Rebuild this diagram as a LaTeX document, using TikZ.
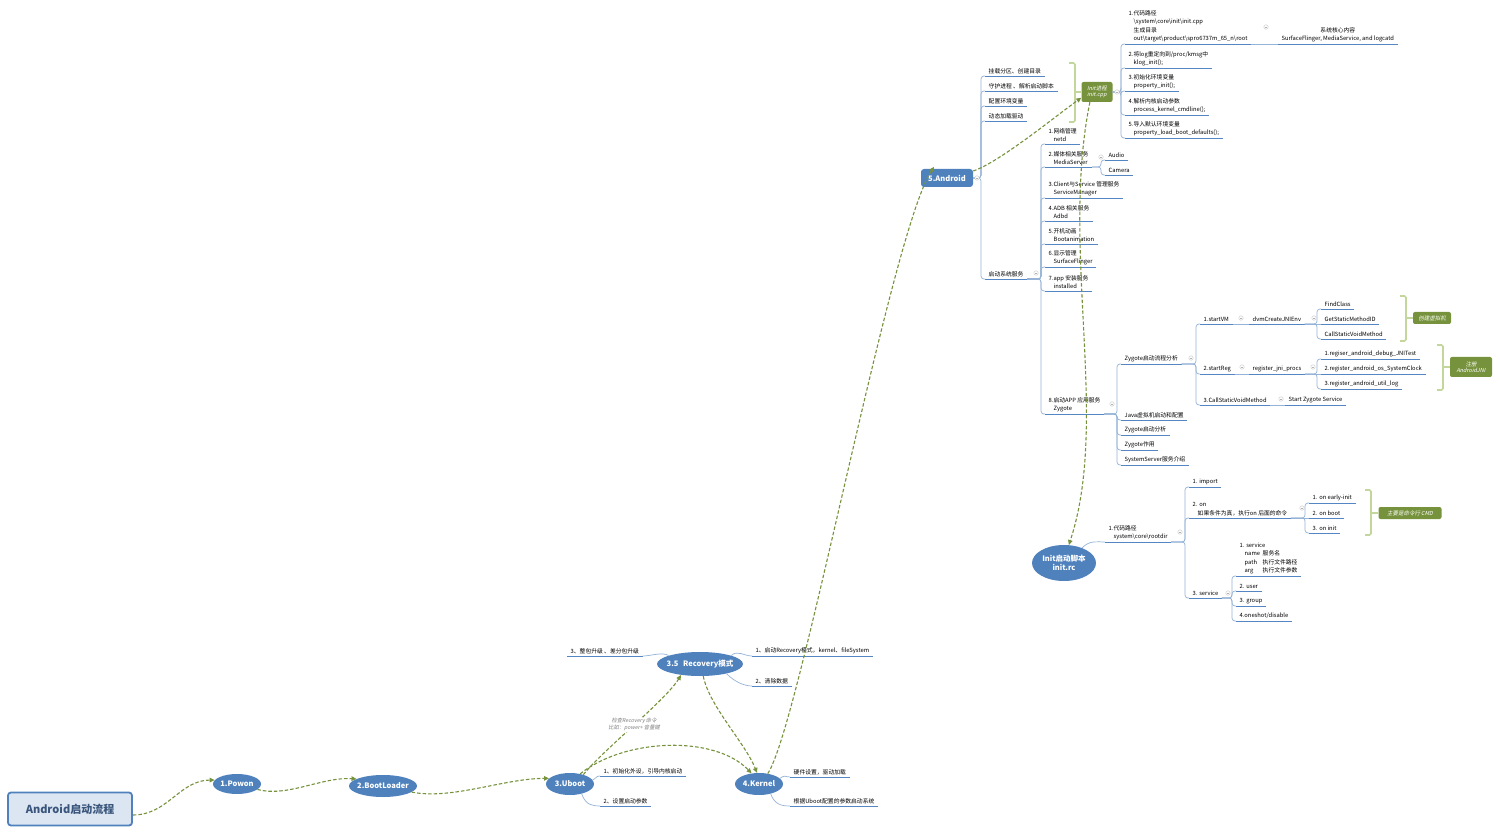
\documentclass[tikz,border=0pt]{standalone}
\usepackage{fontspec}
\setmainfont{Noto Sans CJK SC}
\newfontfamily\slantfont{Noto Sans CJK SC}[FakeSlant=0.2]
\usetikzlibrary{arrows.meta,shapes.geometric}
\definecolor{topicblue}{RGB}{79,129,189}
\definecolor{lineblue}{RGB}{149,179,215}
\definecolor{ulblue}{RGB}{84,134,196}
\definecolor{flowgreen}{RGB}{118,146,60}
\definecolor{bracegreen}{RGB}{195,214,155}
\definecolor{titlefill}{RGB}{220,230,242}
\definecolor{titletext}{RGB}{59,86,124}
\newcommand{\leafFont}{\fontsize{5.8}{8.4}\selectfont}
\newcommand{\bsl}{\textbackslash}
\newcommand{\indt}{\hspace*{5pt}}

\begin{document}
\begin{tikzpicture}[x=1pt, y=-1pt,
  topic/.style={ellipse, fill=topicblue, text=white, font=\fontsize{7.5}{9}\selectfont\bfseries, inner xsep=-4pt, inner ysep=0pt, align=center},
  leaf/.style={anchor=south west, inner xsep=3.5pt, inner ysep=1.8pt, align=left, font=\leafFont,
    append after command={(\tikzlastnode.south west) edge[draw=ulblue, line width=0.8pt] (\tikzlastnode.south east)}},
  summary/.style={rectangle, rounded corners=2pt, fill=flowgreen, text=white, font=\slantfont\fontsize{5.5}{6.5}\selectfont, inner sep=1pt, align=center},
  note/.style={fill=white, text=gray, font=\slantfont\fontsize{5.3}{7}\selectfont, inner sep=0.5pt, align=center},
  link/.style={draw=lineblue, line width=0.7pt, rounded corners=3pt},
  flow/.style={draw=flowgreen, line width=1.1pt, dash pattern=on 3.5pt off 2pt, -{Triangle[length=5pt,width=4.5pt]}},
  brace/.style={draw=bracegreen, line width=1.6pt, rounded corners=1.5pt},
  fold/.style={circle, draw=gray!45, fill=white, inner sep=0pt, minimum size=4.5pt, line width=0.4pt,
    path picture={\draw[gray!60, line width=0.4pt] ([xshift=1pt]path picture bounding box.west) -- ([xshift=-1pt]path picture bounding box.east);}}]

\useasboundingbox[fill=white] (0,0) rectangle (1500,834);

% main chain
\node[rectangle, rounded corners=3pt, draw=topicblue, line width=1.8pt, fill=titlefill, text=titletext,
  font=\fontsize{11}{13}\selectfont\bfseries, minimum width=124pt, minimum height=33pt] (title) at (70,809) {Android启动流程};
\node[topic, minimum width=48pt, minimum height=20pt] (powon) at (237,784) {1.Powon};
\node[topic, minimum width=68pt, minimum height=22pt] (boot) at (383,786) {2.BootLoader};
\node[topic, minimum width=48pt, minimum height=22pt] (uboot) at (570,784) {3.Uboot};
\node[topic, minimum width=48pt, minimum height=22pt] (kernel) at (759,784) {4.Kernel};
\node[topic, minimum width=86pt, minimum height=24pt] (recov) at (700,664) {3.5\hspace{3pt} Recovery模式};
\node[rectangle, rounded corners=3pt, fill=topicblue, text=white, font=\fontsize{7.5}{9}\selectfont\bfseries,
  minimum width=52pt, minimum height=18pt, inner sep=0pt] (droid) at (947,178) {5.Android};
\node[topic, minimum width=64pt, minimum height=36pt] (initrc) at (1064,563) {Init启动脚本\\init.rc};

% summaries
\node[summary, minimum width=31pt, minimum height=20pt] (initp) at (1097,92) {Init进程\\init.cpp};
\node[summary, minimum width=38pt, minimum height=12pt] (vm) at (1432,318) {创建虚拟机};
\node[summary, minimum width=42pt, minimum height=20pt] (jni) at (1471,367) {注册\\AndroidJNI};
\node[summary, minimum width=63pt, minimum height=12pt] (cmd) at (1410,513) {主要是命令行 CMD};

% 5.Android
\node[leaf] (a1) at (985,76) {挂载分区、创建目录};
\node[leaf] (a2) at (985,91) {守护进程 、解析启动脚本};
\node[leaf] (a3) at (985,106) {配置环境变量};
\node[leaf] (a4) at (985,121) {动态加载驱动};
\node[leaf] (a5) at (985,279) {启动系统服务};

% init.cpp
\node[leaf] (i1) at (1125,44) {1.代码路径\\\indt\bsl system\bsl core\bsl init\bsl init.cpp\\\indt 生成目录\\\indt out\bsl target\bsl product\bsl spro6737m\_65\_n\bsl root};
\node[leaf, align=center] (i1b) at (1278,44) {系统核心内容\\SurfaceFlinger, MediaService, and logcatd};
\node[leaf] (i2) at (1125,68) {2.将log重定向到/proc/kmsg中\\\indt klog\_init();};
\node[leaf] (i3) at (1125,91) {3.初始化环境变量\\\indt property\_init();};
\node[leaf] (i4) at (1125,115) {4.解析内核启动参数\\\indt process\_kernel\_cmdline();};
\node[leaf] (i5) at (1125,138) {5.导入默认环境变量\\\indt property\_load\_boot\_defaults();};

% system services
\node[leaf] (s1) at (1045,144) {1.网络管理\\\indt netd};
\node[leaf] (s2) at (1045,167) {2.媒体相关服务\\\indt MediaServer};
\node[leaf] (s3) at (1045,198) {3.Client与Service 管理服务\\\indt ServiceManager};
\node[leaf] (s4) at (1045,221) {4.ADB 相关服务\\\indt Adbd};
\node[leaf] (s5) at (1045,244) {5.开机动画\\\indt Bootanimation};
\node[leaf] (s6) at (1045,267) {6.显示管理\\\indt SurfaceFlinger};
\node[leaf] (s7) at (1045,291) {7.app 安装服务\\\indt installed};
\node[leaf] (s8) at (1045,414) {8.启动APP 应用服务\\\indt Zygote};
\node[leaf] (audio) at (1105,160) {Audio};
\node[leaf] (camera) at (1105,175) {Camera};

% Zygote
\node[leaf] (z1) at (1121,364) {Zygote启动流程分析};
\node[leaf] (z2) at (1121,420) {Java虚拟机启动和配置};
\node[leaf] (z3) at (1121,435) {Zygote启动分析};
\node[leaf] (z4) at (1121,450) {Zygote作用};
\node[leaf] (z5) at (1121,465) {SystemServer服务介绍};
\node[leaf] (v1) at (1200,324) {1.startVM};
\node[leaf] (v2) at (1200,374) {2.startReg};
\node[leaf] (v3) at (1200,405) {3.CallStaticVoidMethod};
\node[leaf] (v11) at (1249,324) {dvmCreateJNIEnv};
\node[leaf] (v21) at (1249,374) {register\_jni\_procs};
\node[leaf] (v31) at (1285,405) {Start Zygote Service};
\node[leaf] (m1) at (1321,309) {FindClass};
\node[leaf] (m2) at (1321,324) {GetStaticMethodID};
\node[leaf] (m3) at (1321,339) {CallStaticVoidMethod};
\node[leaf] (j1) at (1321,359) {1.regiser\_android\_debug\_JNITest};
\node[leaf] (j2) at (1321,374) {2.register\_android\_os\_SystemClock};
\node[leaf] (j3) at (1321,389) {3.register\_android\_util\_log};

% init.rc
\node[leaf] (r1) at (1105,542) {1.代码路径\\\indt system\bsl core\bsl rootdir};
\node[leaf] (r11) at (1189,487) {1. import};
\node[leaf] (r12) at (1189,518) {2. on\\\indt 如果条件为真，执行on 后面的命令};
\node[leaf] (r13) at (1189,598) {3. service};
\node[leaf] (o1) at (1309,503) {1. on early-init};
\node[leaf] (o2) at (1309,518) {2. on boot};
\node[leaf] (o3) at (1309,533) {3. on init};
\node[leaf] (t1) at (1236,576) {1. service\\\indt\makebox[18pt][l]{name}服务名\\\indt\makebox[18pt][l]{path}执行文件路径\\\indt\makebox[18pt][l]{arg}执行文件参数};
\node[leaf] (t2) at (1236,591) {2. user};
\node[leaf] (t3) at (1236,606) {3. group};
\node[leaf] (t4) at (1236,621) {4.oneshot/disable};

% recovery, uboot, kernel
\node[leaf] (e1) at (752,656) {1、启动Recovery模式，kernel、fileSystem};
\node[leaf] (e2) at (752,686) {2、清除数据};
\node[leaf] (e3) at (567,656) {3、整包升级 、差分包升级};
\node[leaf] (u1) at (600,776) {1、初始化外设，引导内核启动};
\node[leaf] (u2) at (600,806) {2、设置启动参数};
\node[leaf] (k1) at (790,777) {硬件设置，驱动加载};
\node[leaf] (k2) at (790,806) {根据Uboot配置的参数启动系统};

% tree links
\foreach \kid in {a1,a2,a3,a4,a5}
  \draw[link] (droid.east) -| ([xshift=-4pt]\kid.south west) -- (\kid.south west);
\foreach \kid in {i1,i2,i3,i4,i5}
  \draw[link] (initp.east) -| ([xshift=-4pt]\kid.south west) -- (\kid.south west);
\draw[link] (i1.south east) -- (i1b.south west);
\foreach \kid in {s1,s2,s3,s4,s5,s6,s7,s8}
  \draw[link] (a5.south east) -| ([xshift=-4pt]\kid.south west) -- (\kid.south west);
\foreach \kid in {audio,camera}
  \draw[link] (s2.south east) -| ([xshift=-4pt]\kid.south west) -- (\kid.south west);
\foreach \kid in {z1,z2,z3,z4,z5}
  \draw[link] (s8.south east) -| ([xshift=-4pt]\kid.south west) -- (\kid.south west);
\foreach \kid in {v1,v2,v3}
  \draw[link] (z1.south east) -| ([xshift=-4pt]\kid.south west) -- (\kid.south west);
\draw[link] (v1.south east) -- (v11.south west);
\draw[link] (v2.south east) -- (v21.south west);
\draw[link] (v3.south east) -- (v31.south west);
\foreach \kid in {m1,m3}
  \draw[link] (v11.south east) -| ([xshift=-4pt]\kid.south west) -- (\kid.south west);
\draw[link] (v11.south east) -- (m2.south west);
\foreach \kid in {j1,j3}
  \draw[link] (v21.south east) -| ([xshift=-4pt]\kid.south west) -- (\kid.south west);
\draw[link] (v21.south east) -- (j2.south west);
\draw[link] (initrc.40) .. controls +(8,-8) and +(-8,0) .. (r1.south west);
\foreach \kid in {r11,r12,r13}
  \draw[link] (r1.south east) -| ([xshift=-4pt]\kid.south west) -- (\kid.south west);
\foreach \kid in {o1,o3}
  \draw[link] (r12.south east) -| ([xshift=-4pt]\kid.south west) -- (\kid.south west);
\draw[link] (r12.south east) -- (o2.south west);
\foreach \kid in {t1,t2,t3,t4}
  \draw[link] (r13.south east) -| ([xshift=-4pt]\kid.south west) -- (\kid.south west);
\draw[link] (recov.15) .. controls +(6,-6) and +(-8,0) .. (e1.south west);
\draw[link] (recov.-20) .. controls +(8,8) and +(-8,0) .. (e2.south west);
\draw[link] (recov.165) .. controls +(-6,-4) and +(8,0) .. (e3.south east);
\draw[link] (uboot.10) .. controls +(4,-2) and +(-4,0) .. (u1.south west);
\draw[link] (uboot.-40) .. controls +(4,12) and +(-6,0) .. (u2.south west);
\draw[link] (kernel.15) .. controls +(6,-4) and +(-6,0) .. (k1.south west);
\draw[link] (kernel.-40) .. controls +(4,12) and +(-6,0) .. (k2.south west);

% fold marks
\foreach \p [count=\k] in {(977,178),(1117,92),(1266,27),(1036,273),(1101,157),(1112,404),(1191,358),(1241,318),
  (1314,318),(1242,367),(1313,367),(1281,399),(1180,532),(1302,508),(1228,593)}
  \node[fold] (fold\k) at \p {};

% summary brackets
\draw[brace] (1069,63) -- (1075,63) -- (1075,122) -- (1069,122);
\draw[brace] (1075,92) -- (initp.west);
\draw[brace] (1400,296) -- (1406,296) -- (1406,341) -- (1400,341);
\draw[brace] (1406,318) -- (vm.west);
\draw[brace] (1437,345) -- (1443,345) -- (1443,390) -- (1437,390);
\draw[brace] (1443,367) -- (jni.west);
\draw[brace] (1365,490) -- (1371,490) -- (1371,535) -- (1365,535);
\draw[brace] (1371,513) -- (cmd.west);

% boot flow
\draw[flow] ([yshift=-6pt]title.east) .. controls +(35,0) and +(-35,0) .. (powon.170);
\draw[flow] (powon.-15) .. controls +(30,8) and +(-35,-2) .. (boot.165);
\draw[flow] (boot.-12) .. controls +(40,8) and +(-45,0) .. (uboot.165);
\draw[flow] (uboot.35) .. controls +(20,-25) and +(-15,25) .. node[note, pos=0.5] {检查Recovery 命令\\比如：power+ 音量键} (recov.210);
\draw[flow] (uboot.45) .. controls (625,738) and (715,735) .. (kernel.125);
\draw[flow] (recov.-75) .. controls +(6,30) and +(-12,-30) .. (kernel.100);
\draw[flow] (kernel.50) .. controls (800,725) and (890,235) .. ([xshift=-13pt,yshift=2pt]droid.north);
\draw[flow] (droid.15) .. controls +(25,-8) and +(-25,18) .. (initp.200);
\draw[flow] (initp.235) .. controls (1060,250) and (1110,420) .. (initrc.75);
\end{tikzpicture}
\end{document}
